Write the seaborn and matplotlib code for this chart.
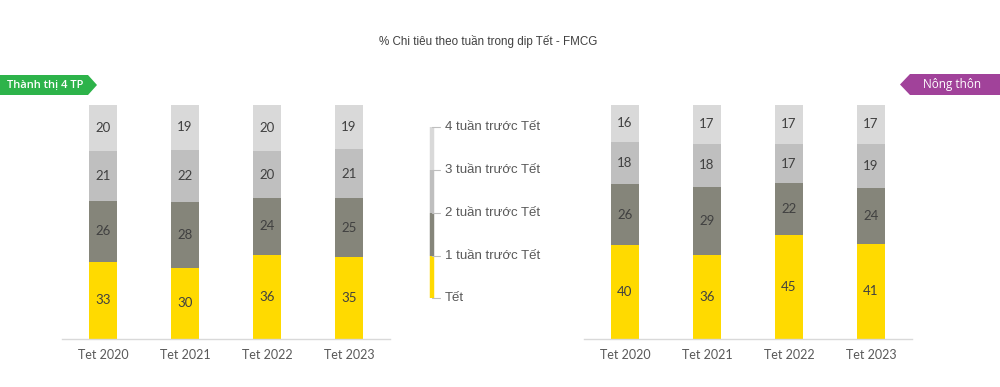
import matplotlib
matplotlib.use("Agg")
import matplotlib.pyplot as plt
import seaborn as sns
import numpy as np
import pandas as pd
from matplotlib.patches import Polygon

years = ["Tet 2020", "Tet 2021", "Tet 2022", "Tet 2023"]
series_names = ["Tết", "1 tuần trước Tết", "2 tuần trước Tết", "3 tuần trước Tết", "4 tuần trước Tết"]
# stacked segments, bottom to top (100% stacked)
urban_tet = [33, 30, 36, 35]
urban_w2 = [26, 28, 24, 25]
urban_w3 = [21, 22, 20, 21]
urban_w4 = [20, 19, 20, 19]
rural_tet = [40, 36, 45, 41]
rural_w2 = [26, 29, 22, 24]
rural_w3 = [18, 18, 17, 19]
rural_w4 = [16, 17, 17, 17]

title = "% Chi tiêu theo tuần trong dip Tết - FMCG"
urban_label = "Thành thị 4 TP"
rural_label = "Nông thôn"

colors = ["#FFDA00", "#85857A", "#BFBFBF", "#D9D9D9"]
legend_colors = ["#FFDA00", "#85857A", "#BFBFBF", "#D9D9D9"]

sns.set_theme(style="white")
plt.rcParams["font.family"] = ["Lato", "DejaVu Sans"]

W, H = 1000, 387
fig = plt.figure(figsize=(10, 3.87), dpi=100)

def fx(px):
    return px / W

def fy(py):
    return 1 - py / H

def draw_panel(ax, layers):
    arr = np.array(layers, dtype=float)
    share = arr / arr.sum(axis=0) * 100
    cum = np.cumsum(share, axis=0)
    for i in range(len(layers) - 1, -1, -1):
        df = pd.DataFrame({"year": years, "v": cum[i]})
        sns.barplot(data=df, x="year", y="v", color=colors[i], saturation=1,
                    width=0.34, ax=ax, linewidth=0, edgecolor="none")
    for i in range(len(layers)):
        for j in range(len(years)):
            bottom = cum[i][j] - share[i][j]
            ax.text(j, bottom + share[i][j] / 2, str(layers[i][j]), ha="center", va="center",
                    fontsize=9.5, color="#404040")
    ax.set_xlim(-0.5, 3.5)
    ax.set_ylim(0, 100)
    ax.set_xlabel("")
    ax.set_ylabel("")
    ax.set_yticks([])
    for s in ["top", "right", "left"]:
        ax.spines[s].set_visible(False)
    ax.spines["bottom"].set_color("#D9D9D9")
    ax.spines["bottom"].set_linewidth(1)
    ax.tick_params(axis="x", length=0, pad=7, labelsize=9, labelcolor="#595959")

base = 339
top = 104.5
axL = fig.add_axes([fx(62), fy(base), fx(390 - 62), (base - top) / H])
axR = fig.add_axes([fx(584), fy(base), fx(912 - 584), (base - top) / H])
draw_panel(axL, [urban_tet, urban_w2, urban_w3, urban_w4])
draw_panel(axR, [rural_tet, rural_w2, rural_w3, rural_w4])

# title
fig.text(fx(488), fy(42), title, ha="center", va="center", fontsize=8.4,
         color="#404040", family=["Liberation Sans", "DejaVu Sans"])

# tags
green = "#2DB34A"
purple = "#A1429A"
pts = [(fx(0), fy(75)), (fx(88), fy(75)), (fx(97), fy(85)), (fx(88), fy(95)), (fx(0), fy(95))]
fig.patches.append(Polygon(pts, closed=True, transform=fig.transFigure, facecolor=green, edgecolor="none"))
fig.text(fx(45), fy(85), urban_label, ha="center", va="center", fontsize=8, color="white",
         weight="semibold", family=["Open Sans", "DejaVu Sans"])
pts = [(fx(1000), fy(74)), (fx(910), fy(74)), (fx(900), fy(84.5)), (fx(910), fy(95)), (fx(1000), fy(95))]
fig.patches.append(Polygon(pts, closed=True, transform=fig.transFigure, facecolor=purple, edgecolor="none"))
fig.text(fx(952), fy(84.5), rural_label, ha="center", va="center", fontsize=8.5, color="white",
         family=["Open Sans", "DejaVu Sans"])

# legend: vertical colour strip with ticks
axLg = fig.add_axes([fx(420), fy(310), fx(160), (310 - 115) / H])
axLg.set_xlim(420, 580)
axLg.set_ylim(310, 115)
axLg.axis("off")
tick_y = [298, 256, 213, 170, 127]
for k in range(4):
    axLg.plot([432, 432], [tick_y[k], tick_y[k + 1]], color=legend_colors[k], lw=3.2,
              solid_capstyle="butt")
for k, name in enumerate(series_names):
    axLg.plot([432, 440], [tick_y[k], tick_y[k]], color="#BFBFBF", lw=0.8)
    axLg.text(445, tick_y[k], name, ha="left", va="center", fontsize=9.5, color="#595959",
              family=["Liberation Sans", "DejaVu Sans"])

fig.savefig("out.png", dpi=100, facecolor="white")
